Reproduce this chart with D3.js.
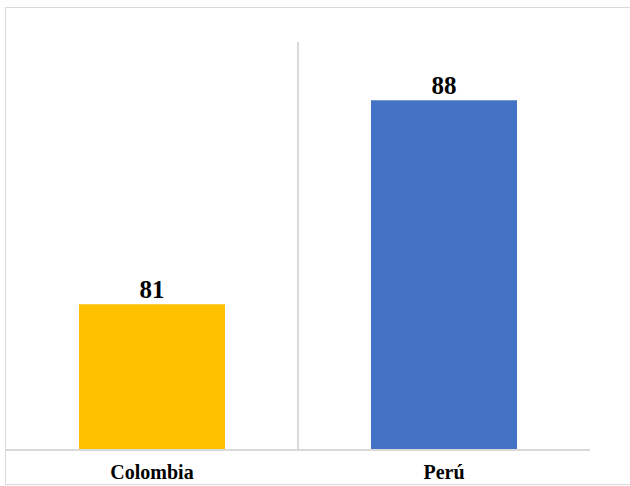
<!DOCTYPE html>
<html><head><meta charset="utf-8">
<script src="https://cdn.jsdelivr.net/npm/d3@7"></script>
<style>html,body{margin:0;padding:0;background:#fff;}svg{display:block;}
text{font-family:'Liberation Serif','Times New Roman',serif;font-weight:bold;}</style>
</head><body>
<svg id="c" width="630" height="486"></svg>
<script>
const categories = ["Colombia", "Perú"];
const values = [81, 88];
const colors = ["#FFC000", "#4472C4"];

const svg = d3.select("#c");

const x = d3.scaleBand().domain(categories).range([6, 590]).paddingInner(0.5).paddingOuter(0.25);
const y = d3.scaleLinear().domain([76, 90]).range([450, 42]);

// vertical category separators (internal)
const step = x.step();
for (let i = 1; i < categories.length; i++) {
  const xs = x(categories[i]) - step * 0.25;
  svg.append("line").attr("x1", xs).attr("x2", xs).attr("y1", y(90)).attr("y2", y(76))
    .attr("stroke", "#d9d9d9").attr("stroke-width", 2);
}

svg.selectAll("rect.bar").data(values).join("rect").attr("class", "bar")
  .attr("x", (d, i) => x(categories[i])).attr("width", x.bandwidth())
  .attr("y", d => y(d)).attr("height", d => y(76) - y(d))
  .attr("fill", (d, i) => colors[i]);

// baseline
svg.append("line").attr("x1", 6).attr("x2", 590).attr("y1", y(76)).attr("y2", y(76))
  .attr("stroke", "#d9d9d9").attr("stroke-width", 2);

svg.selectAll("text.val").data(values).join("text").attr("class", "val")
  .attr("x", (d, i) => x(categories[i]) + x.bandwidth() / 2).attr("y", d => y(d) - 6)
  .attr("text-anchor", "middle")
  .attr("font-size", 25).attr("fill", "#000").text(d => d);

svg.selectAll("text.cat").data(categories).join("text").attr("class", "cat")
  .attr("x", d => x(d) + x.bandwidth() / 2).attr("y", 479)
  .attr("text-anchor", "middle")
  .attr("font-size", 20).attr("fill", "#000").text(d => d);

// outer chart border
svg.append("rect").attr("x", 5.5).attr("y", 7.5).attr("width", 700).attr("height", 477)
  .attr("fill", "none").attr("stroke", "#d9d9d9").attr("stroke-width", 1);
</script>
</body></html>
